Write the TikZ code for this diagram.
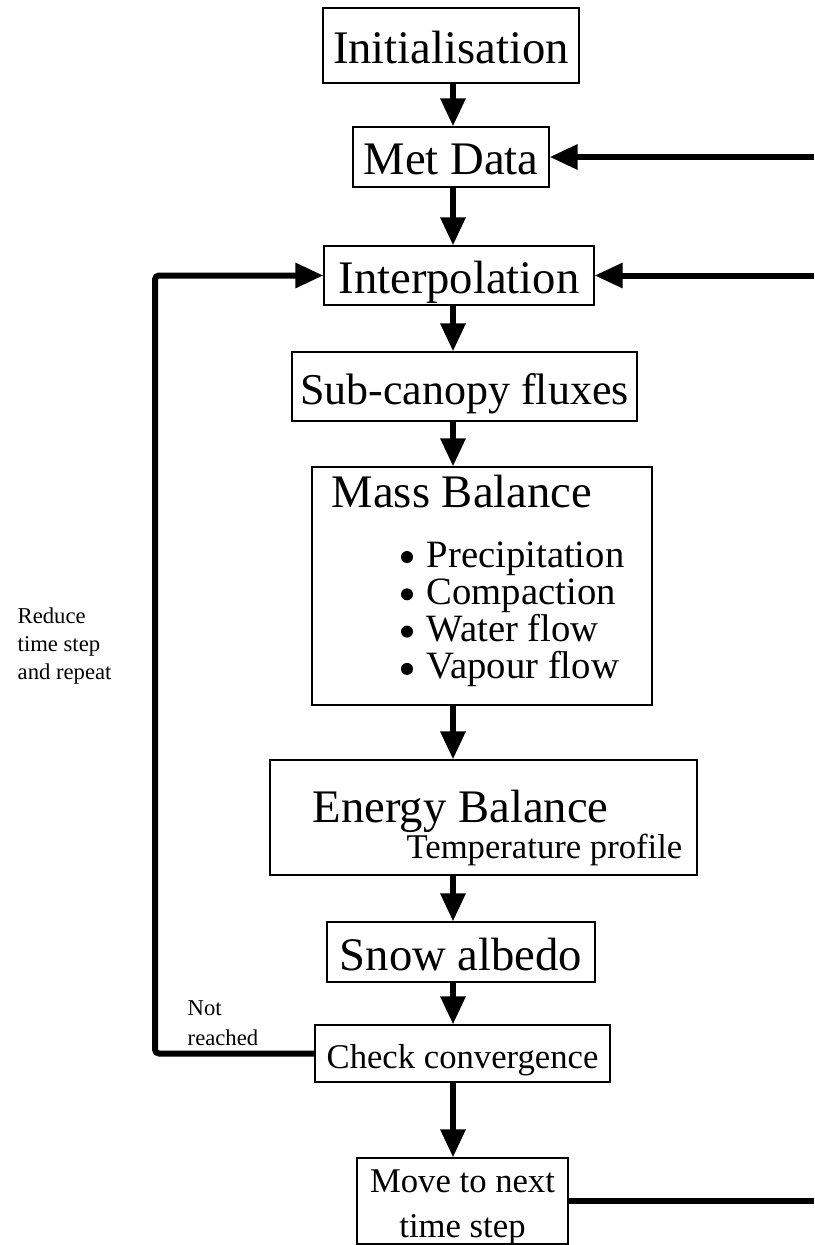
\documentclass[tikz,border=0pt]{standalone}
\usepackage{fontspec}
\setmainfont{Liberation Serif}
\usetikzlibrary{arrows.meta}

\newcommand{\bigfont}{\fontsize{35}{40}\selectfont}
\newcommand{\subfont}{\fontsize{33}{38}\selectfont}
\newcommand{\midfont}{\fontsize{29}{34}\selectfont}
\newcommand{\smallfont}{\fontsize{26}{34}\selectfont}
\newcommand{\notefont}{\fontsize{17}{21}\selectfont}

\tikzset{
  stepbox/.style={draw, line width=0.9pt, inner sep=0pt, text height=29pt, text depth=2pt},
  flow/.style={line width=4.5pt, -{Triangle[length=21pt,width=18pt]}},
  rail/.style={line width=4.5pt},
  note/.style={anchor=base west, font=\notefont},
}

\begin{document}
\begin{tikzpicture}[x=0.75pt,y=0.75pt,yscale=-1,xscale=1]
\useasboundingbox (0,0) rectangle (814,1245);

% columns used by the connectors
\coordinate (spine) at (453,0);
\coordinate (loop) at (155,0);
\coordinate (rail) at (814,0);

%Shape: Rectangle
\node[stepbox, font=\bigfont, minimum width=192pt, minimum height=56.25pt] (init) at (451,45.5) {Initialisation};
%Shape: Rectangle
\node[stepbox, font=\bigfont, minimum width=147pt, minimum height=45pt] (met) at (451,157) {Met Data};
%Shape: Rectangle
\node[stepbox, font=\bigfont, minimum width=202.5pt, minimum height=44.25pt] (interp) at (459,275.5) {Interpolation};
%Shape: Rectangle
\node[stepbox, font=\subfont, minimum width=258.75pt, minimum height=51.75pt] (sub) at (464.5,386.5) {Sub-canopy fluxes};
%Shape: Rectangle
\node[stepbox, minimum width=255pt, minimum height=178.5pt] (mass) at (482,586) {};
%Shape: Rectangle
\node[stepbox, minimum width=320.25pt, minimum height=86.25pt] (energy) at (483.5,817.5) {};
%Shape: Rectangle
\node[stepbox, font=\bigfont, minimum width=201pt, minimum height=45pt] (snow) at (461,952) {Snow albedo};
%Shape: Rectangle
\node[stepbox, font=\smallfont, text height=23pt, text depth=1.25pt, minimum width=221.25pt, minimum height=42.75pt] (check) at (462.5,1053.5) {Check convergence};
%Shape: Rectangle
\node[stepbox, minimum width=158.25pt, minimum height=64.5pt] (move) at (462.5,1201) {};

% Text Node
\node[anchor=base west, font=\bigfont] (masstitle) at (327,507) {Mass Balance};
\foreach \entry [count=\i] in {Precipitation, Compaction, Water flow, Vapour flow} {
  \pgfmathsetmacro{\by}{567+37.3*(\i-1)}
  \node[circle, fill, inner sep=0pt, minimum size=9pt] (dot\i) at (407,\by-10) {};
  \node[anchor=base west, font=\midfont] (entry\i) at (422,\by) {\entry};
}
% Text Node
\node[anchor=base west, font=\bigfont] (energytitle) at (308,822) {Energy Balance};
\node[anchor=base east, font=\smallfont] (tprofile) at (687,858) {Temperature profile};
% Text Node
\node[font=\smallfont, align=center] (movetxt) at (462.5,1207) {Move to next\\time step};

% Text Node
\node[note] (reduce1) at (13,623) {Reduce};
\node[note] (reduce2) at (13,651) {time step};
\node[note] (reduce3) at (13,679) {and repeat};
\node[note] (notreached1) at (183,1015) {Not};
\node[note] (notreached2) at (183,1045) {reached};

%Straight Lines
\draw[flow] (init.south -| spine) -- (met.north -| spine);
\draw[flow] (met.south -| spine) -- (interp.north -| spine);
\draw[flow] (interp.south -| spine) -- (sub.north -| spine);
\draw[flow] (sub.south -| spine) -- (mass.north -| spine);
\draw[flow] (mass.south -| spine) -- (energy.north -| spine);
\draw[flow] (energy.south -| spine) -- (snow.north -| spine);
\draw[flow] (snow.south -| spine) -- (check.north -| spine);
\draw[flow] (check.south -| spine) -- (move.north -| spine);

% loop back and returns from the right
\draw[flow, rounded corners=3pt] (check.west) -- (check.west -| loop) -- (loop |- interp.west) -- (interp.west);
\draw[flow] (rail |- met.east) -- (met.east);
\draw[flow] (rail |- interp.east) -- (interp.east);
\draw[rail] (move.east) -- (rail |- move.east);

\end{tikzpicture}
\end{document}
